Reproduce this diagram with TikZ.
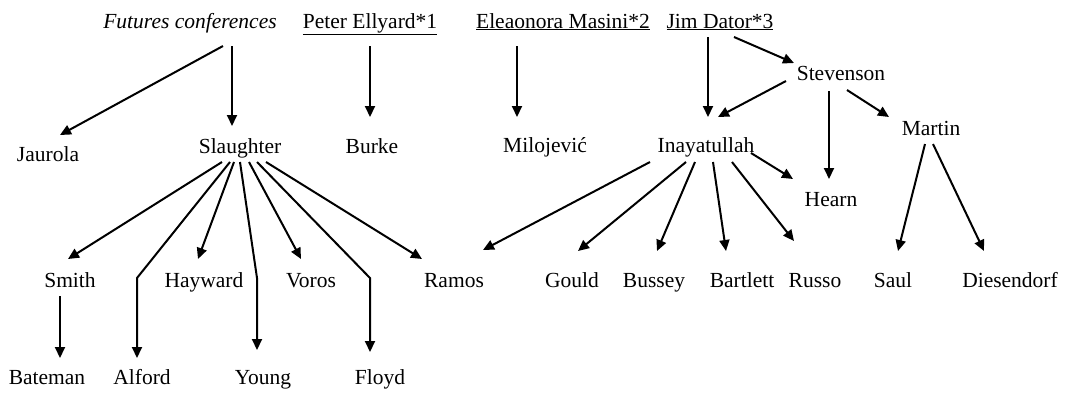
\documentclass[tikz,border=0pt]{standalone}
\usepackage{fontspec}
\setmainfont{Liberation Serif}
\usetikzlibrary{arrows.meta,calc}
\begin{document}
\begin{tikzpicture}[x=1pt,y=-1pt,
  lbl/.style={anchor=base,inner sep=0pt,font=\fontsize{21.5}{25}\selectfont},
  arr/.style={line width=2pt,-{Triangle[length=11pt,width=10pt]}}]
\useasboundingbox (0,0) rectangle (1079,392);
% top row
\node[lbl] (fc) at (190,28) {\itshape Futures conferences};
\node[lbl] (pe) at (370,28) {\underline{Peter Ellyard*1}};
\node[lbl] (em) at (563,28) {\underline{Eleaonora Masini*2}};
\node[lbl] (jd) at (720,28) {\underline{Jim Dator*3}};
% second rows
\node[lbl] (ja) at (48,161) {Jaurola};
\node[lbl] (sl) at (240,153) {Slaughter};
\node[lbl] (bu) at (372,153) {Burke};
\node[lbl] (mi) at (545,152) {Milojević};
\node[lbl] (st) at (841,80) {Stevenson};
\node[lbl] (in) at (706,152) {Inayatullah};
\node[lbl] (ma) at (931,135) {Martin};
\node[lbl] (he) at (831,206) {Hearn};
% third row
\node[lbl] (sm) at (70,287) {Smith};
\node[lbl] (hy) at (204,287) {Hayward};
\node[lbl] (vo) at (311,287) {Voros};
\node[lbl] (ra) at (454,287) {Ramos};
\node[lbl] (go) at (572,287) {Gould};
\node[lbl] (bs) at (654,287) {Bussey};
\node[lbl] (bt) at (742,287) {Bartlett};
\node[lbl] (ru) at (815,287) {Russo};
\node[lbl] (sa) at (893,287) {Saul};
\node[lbl] (di) at (1010,287) {Diesendorf};
% bottom row
\node[lbl] (ba) at (47,384) {Bateman};
\node[lbl] (al) at (142,384) {Alford};
\node[lbl] (yo) at (263,384) {Young};
\node[lbl] (fl) at (380,384) {Floyd};
% connectors
\draw[arr] ($(fc.base)+(33,18)$) -- ($(ja.base)+(12,-26)$);
\draw[arr] ($(fc.base)+(42,18)$) -- ($(sl.base)+(-8,-27)$);
\draw[arr] ($(pe.base)+(0,18)$) -- ($(bu.base)+(-2,-36)$);
\draw[arr] ($(em.base)+(-46,18)$) -- ($(mi.base)+(-28,-35)$);
\draw[arr] ($(jd.base)+(-12,9)$) -- ($(in.base)+(2,-35)$);
\draw[arr] ($(jd.base)+(14,9)$) -- ($(st.base)+(-47,-17)$);
\draw[arr] ($(st.base)+(-55,1)$) -- ($(in.base)+(12,-35)$);
\draw[arr] ($(st.base)+(-12,11)$) -- ($(he.base)+(-2,-27)$);
\draw[arr] ($(st.base)+(6,10)$) -- ($(ma.base)+(-42,-18)$);
\draw[arr] ($(in.base)+(45,1)$) -- ($(he.base)+(-38,-27)$);
\draw[arr] ($(ma.base)+(-6,9)$) -- ($(sa.base)+(5,-36)$);
\draw[arr] ($(ma.base)+(2,9)$) -- ($(di.base)+(-26,-36)$);
\draw[arr] ($(in.base)+(-56,10)$) -- ($(ra.base)+(29,-37)$);
\draw[arr] ($(in.base)+(-20,10)$) -- ($(go.base)+(6,-36)$);
\draw[arr] ($(in.base)+(-11,10)$) -- ($(bs.base)+(3,-36)$);
\draw[arr] ($(in.base)+(7,10)$) -- ($(bt.base)+(-16,-36)$);
\draw[arr] ($(in.base)+(26,10)$) -- ($(ru.base)+(-21,-46)$);
\draw[arr] ($(sl.base)+(-18,9)$) -- ($(sm.base)+(-2,-28)$);
\draw[arr] ($(sl.base)+(-10,9)$) -- ($(al.base)+(-5,-106)$) -- ($(al.base)+(-5,-26)$);
\draw[arr] ($(sl.base)+(-6,9)$) -- ($(hy.base)+(-6,-28)$);
\draw[arr] ($(sl.base)+(0,9)$) -- ($(yo.base)+(-6,-106)$) -- ($(yo.base)+(-6,-34)$);
\draw[arr] ($(sl.base)+(9,9)$) -- ($(vo.base)+(-10,-28)$);
\draw[arr] ($(sl.base)+(17,9)$) -- ($(fl.base)+(-10,-106)$) -- ($(fl.base)+(-10,-32)$);
\draw[arr] ($(sl.base)+(26,9)$) -- ($(ra.base)+(-32,-28)$);
\draw[arr] ($(sm.base)+(-10,9)$) -- ($(ba.base)+(13,-26)$);
\end{tikzpicture}
\end{document}
